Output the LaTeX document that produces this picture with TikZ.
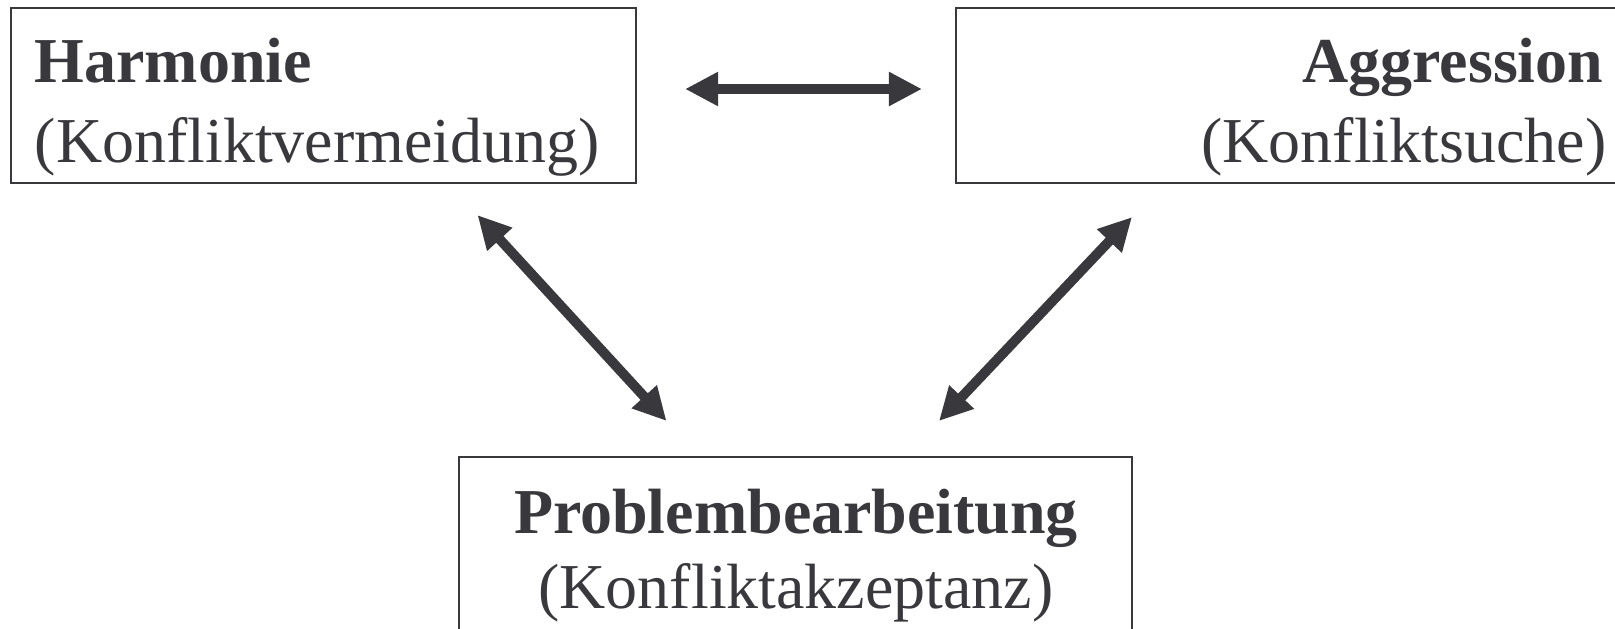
\documentclass[tikz,border=0pt]{standalone}
\usepackage{fontspec}
\setmainfont{Liberation Serif}
\usetikzlibrary{arrows.meta}

\definecolor{inkgray}{HTML}{38383D}

\tikzset{
    box/.style={draw=inkgray, line width=0.6pt, minimum width=#1, minimum height=1.75cm, inner sep=0pt},
    boxtext/.style={text=inkgray, inner sep=0pt, font=\fontsize{18.2}{22.8}\selectfont},
    dblarrow/.style={draw=inkgray, line width=2.8pt, {Triangle[length=3.3mm, width=3.2mm]}-{Triangle[length=3.3mm, width=3.2mm]}}
}

\begin{document}
\begin{tikzpicture}

    \clip (0, 0) rectangle (16.15, 6.28);

    \node[box=6.25cm] (harm) at (3.235, 5.325) {};
    \node[boxtext, anchor=base west] (harmtitle) at (0.34, 5.46) {\bfseries Harmonie};
    \node[boxtext, anchor=base west] (harmsub) at (0.34, 4.66) {(Konfliktvermeidung)};

    \node[box=6.74cm] (aggr) at (12.93, 5.325) {};
    \node[boxtext, anchor=base east] (aggrtitle) at (16.04, 5.46) {\bfseries Aggression};
    \node[boxtext, anchor=base east] (aggrsub) at (16.07, 4.66) {(Konfliktsuche)};

    \node[box=6.73cm] (prob) at (7.955, 0.835) {};
    \node[boxtext, anchor=base] (probtitle) at (7.96, 0.95) {\bfseries Problembearbeitung};
    \node[boxtext, anchor=base] (probsub) at (7.96, 0.20) {(Konfliktakzeptanz)};

    \draw[dblarrow] ([shift={(0.48, 0.065)}]harm.east) -- ([shift={(-0.33, 0.065)}]aggr.west);
    \draw[dblarrow] ([shift={(1.54, -0.31)}]harm.south) -- ([shift={(-1.29, 0.35)}]prob.north);
    \draw[dblarrow] ([shift={(-1.61, -0.33)}]aggr.south) -- ([shift={(1.435, 0.35)}]prob.north);

\end{tikzpicture}
\end{document}
